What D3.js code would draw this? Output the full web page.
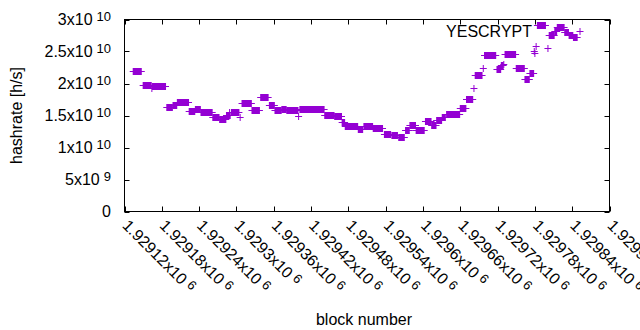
<!DOCTYPE html>
<html>
<head>
<meta charset="utf-8">
<script src="https://cdn.jsdelivr.net/npm/d3@7"></script>
<style>
  body { margin: 0; background: #fff; }
  text { font-family: "Liberation Sans", Arial, sans-serif; fill: #000; }
</style>
</head>
<body>
<div id="chart"></div>
<script>
// runs of blocks that share the same hashrate value
const runStart = [
  1929134, 1929150, 1929164, 1929165, 1929188, 1929198, 1929205, 1929224, 1929234, 1929243,
  1929262, 1929273, 1929284, 1929289, 1929292, 1929306, 1929309, 1929325, 1929339, 1929353,
  1929362, 1929373, 1929381, 1929400, 1929402, 1929442, 1929458, 1929470, 1929475, 1929496,
  1929505, 1929520, 1929538, 1929550, 1929561, 1929572, 1929579, 1929589, 1929604, 1929614,
  1929622, 1929631, 1929638, 1929660, 1929670, 1929682, 1929684, 1929697, 1929699, 1929719,
  1929726, 1929730, 1929732, 1929750, 1929764, 1929772, 1929779, 1929780, 1929782, 1929784,
  1929801, 1929803, 1929812, 1929816, 1929828, 1929835, 1929842
];
const runEnd = [
  1929147, 1929163, 1929164, 1929186, 1929197, 1929204, 1929223, 1929233, 1929242, 1929261,
  1929272, 1929283, 1929290, 1929289, 1929304, 1929306, 1929324, 1929337, 1929351, 1929361,
  1929372, 1929380, 1929399, 1929400, 1929441, 1929457, 1929469, 1929474, 1929495, 1929503,
  1929519, 1929535, 1929548, 1929559, 1929570, 1929578, 1929588, 1929602, 1929613, 1929621,
  1929630, 1929636, 1929659, 1929669, 1929680, 1929682, 1929695, 1929697, 1929717, 1929725,
  1929729, 1929730, 1929749, 1929763, 1929771, 1929778, 1929779, 1929780, 1929782, 1929797,
  1929801, 1929811, 1929815, 1929827, 1929834, 1929841, 1929848
];
const hashrate = [
  2.20e10, 1.98e10, 1.93e10, 1.96e10, 1.64e10, 1.67e10, 1.71e10, 1.57e10, 1.595e10, 1.555e10,
  1.47e10, 1.445e10, 1.51e10, 1.56e10, 1.55e10, 1.47e10, 1.70e10, 1.59e10, 1.79e10, 1.67e10,
  1.59e10, 1.605e10, 1.59e10, 1.50e10, 1.605e10, 1.51e10, 1.485e10, 1.405e10, 1.335e10, 1.29e10,
  1.34e10, 1.31e10, 1.21e10, 1.19e10, 1.16e10, 1.27e10, 1.35e10, 1.28e10, 1.42e10, 1.345e10,
  1.43e10, 1.48e10, 1.52e10, 1.625e10, 1.755e10, 1.93e10, 2.135e10, 2.245e10, 2.445e10, 2.23e10,
  2.29e10, 2.30e10, 2.46e10, 2.25e10, 2.065e10, 2.165e10, 2.51e10, 2.47e10, 2.59e10, 2.915e10,
  2.56e10, 2.76e10, 2.82e10, 2.88e10, 2.81e10, 2.76e10, 2.72e10
];

const xTicks = [1929120, 1929180, 1929240, 1929300, 1929360, 1929420, 1929480,
  1929540, 1929600, 1929660, 1929720, 1929780, 1929840, 1929900];
const xTickLabels = ["1.92912", "1.92918", "1.92924", "1.9293", "1.92936", "1.92942", "1.92948",
  "1.92954", "1.9296", "1.92966", "1.92972", "1.92978", "1.92984", "1.9299"];
const yTicks = [0, 5e9, 1e10, 1.5e10, 2e10, 2.5e10, 3e10];
const yTickLabels = [["0", ""], ["5x10", "9"], ["1x10", "10"], ["1.5x10", "10"],
  ["2x10", "10"], ["2.5x10", "10"], ["3x10", "10"]];

const runs = runStart.map((s, i) => ({ start: s, end: runEnd[i], value: hashrate[i] }));

const width = 640;
const height = 330;
const plot = { left: 124.5, right: 609.5, top: 19.5, bottom: 211.5 };
const color = "#9400d3";
const arm = 3.5;
const tickLen = 5;

const svg = d3
  .select("#chart")
  .append("svg")
  .attr("width", width)
  .attr("height", height);

svg.append("rect").attr("width", width).attr("height", height).attr("fill", "#fff");

// Scales
const xScale = d3.scaleLinear().domain([1929120, 1929900]).range([plot.left, plot.right]);
const yScale = d3.scaleLinear().domain([0, 3e10]).range([plot.bottom, plot.top]);

// ticks (inside, mirrored)
const ticks = svg.append("g").attr("stroke", "#000").attr("stroke-width", 1);
ticks
  .append("g")
  .selectAll("line")
  .data(xTicks)
  .join("line")
  .attr("x1", (d) => Math.round(xScale(d)) + 0.5)
  .attr("x2", (d) => Math.round(xScale(d)) + 0.5)
  .attr("y1", plot.bottom)
  .attr("y2", plot.bottom - tickLen);
ticks
  .append("g")
  .selectAll("line")
  .data(xTicks)
  .join("line")
  .attr("x1", (d) => Math.round(xScale(d)) + 0.5)
  .attr("x2", (d) => Math.round(xScale(d)) + 0.5)
  .attr("y1", plot.top)
  .attr("y2", plot.top + tickLen);
ticks
  .append("g")
  .selectAll("line")
  .data(yTicks)
  .join("line")
  .attr("x1", plot.left)
  .attr("x2", plot.left + tickLen)
  .attr("y1", (d) => Math.round(yScale(d)) + 0.5)
  .attr("y2", (d) => Math.round(yScale(d)) + 0.5);
ticks
  .append("g")
  .selectAll("line")
  .data(yTicks)
  .join("line")
  .attr("x1", plot.right)
  .attr("x2", plot.right - tickLen)
  .attr("y1", (d) => Math.round(yScale(d)) + 0.5)
  .attr("y2", (d) => Math.round(yScale(d)) + 0.5);

// frame
svg
  .append("rect")
  .attr("x", plot.left)
  .attr("y", plot.top)
  .attr("width", plot.right - plot.left)
  .attr("height", plot.bottom - plot.top)
  .attr("fill", "none")
  .attr("stroke", "#000");

// y tick labels
const yLabels = svg
  .append("g")
  .style("font-size", "16px")
  .selectAll("text")
  .data(yTicks)
  .join("text")
  .attr("x", 111)
  .attr("y", (d) => yScale(d) + 5)
  .attr("text-anchor", "end");
yLabels.append("tspan").text((d, i) => yTickLabels[i][0]);
yLabels
  .append("tspan")
  .attr("dx", 4)
  .attr("dy", -4)
  .style("font-size", "13px")
  .text((d, i) => yTickLabels[i][1]);

// x tick labels, rotated
const xLabels = svg
  .append("g")
  .style("font-size", "16px")
  .selectAll("text")
  .data(xTicks)
  .join("text")
  .attr("transform", (d) => `translate(${xScale(d) - 3},${plot.bottom + 15}) rotate(45)`);
xLabels.append("tspan").text((d, i) => xTickLabels[i] + "x10");
xLabels
  .append("tspan")
  .attr("dx", 4)
  .attr("dy", -4)
  .style("font-size", "13px")
  .text("6");

// axis titles
svg
  .append("text")
  .attr("transform", `translate(22,${(plot.top + plot.bottom) / 2}) rotate(-90)`)
  .attr("text-anchor", "middle")
  .style("font-size", "16px")
  .text("hashrate [h/s]");
svg
  .append("text")
  .attr("x", 364)
  .attr("y", 325)
  .attr("text-anchor", "middle")
  .style("font-size", "16px")
  .text("block number");

// points: each run of equal values is a row of "+" marks
const pts = svg.append("g").attr("fill", color).attr("stroke", color);
pts
  .selectAll("rect")
  .data(runs)
  .join("rect")
  .attr("stroke", "none")
  .attr("x", (d) => xScale(d.start) - 0.5)
  .attr("width", (d) => xScale(d.end) - xScale(d.start) + 1)
  .attr("y", (d) => Math.round(yScale(d.value)) - arm + 0.5)
  .attr("height", arm * 2);
pts
  .selectAll("line")
  .data(runs)
  .join("line")
  .attr("x1", (d) => xScale(d.start) - arm)
  .attr("x2", (d) => xScale(d.end) + arm)
  .attr("y1", (d) => Math.round(yScale(d.value)) + 0.5)
  .attr("y2", (d) => Math.round(yScale(d.value)) + 0.5);

// key
const key = svg.append("g");
key
  .append("text")
  .attr("x", 532)
  .attr("y", 37)
  .attr("text-anchor", "end")
  .style("font-size", "16px")
  .text("YESCRYPT");
key
  .append("path")
  .attr("d", `M${580 - arm},31.5H${580 + arm}M580,${31.5 - arm}V${31.5 + arm}`)
  .attr("stroke", color)
  .attr("fill", "none");
</script>
</body>
</html>
